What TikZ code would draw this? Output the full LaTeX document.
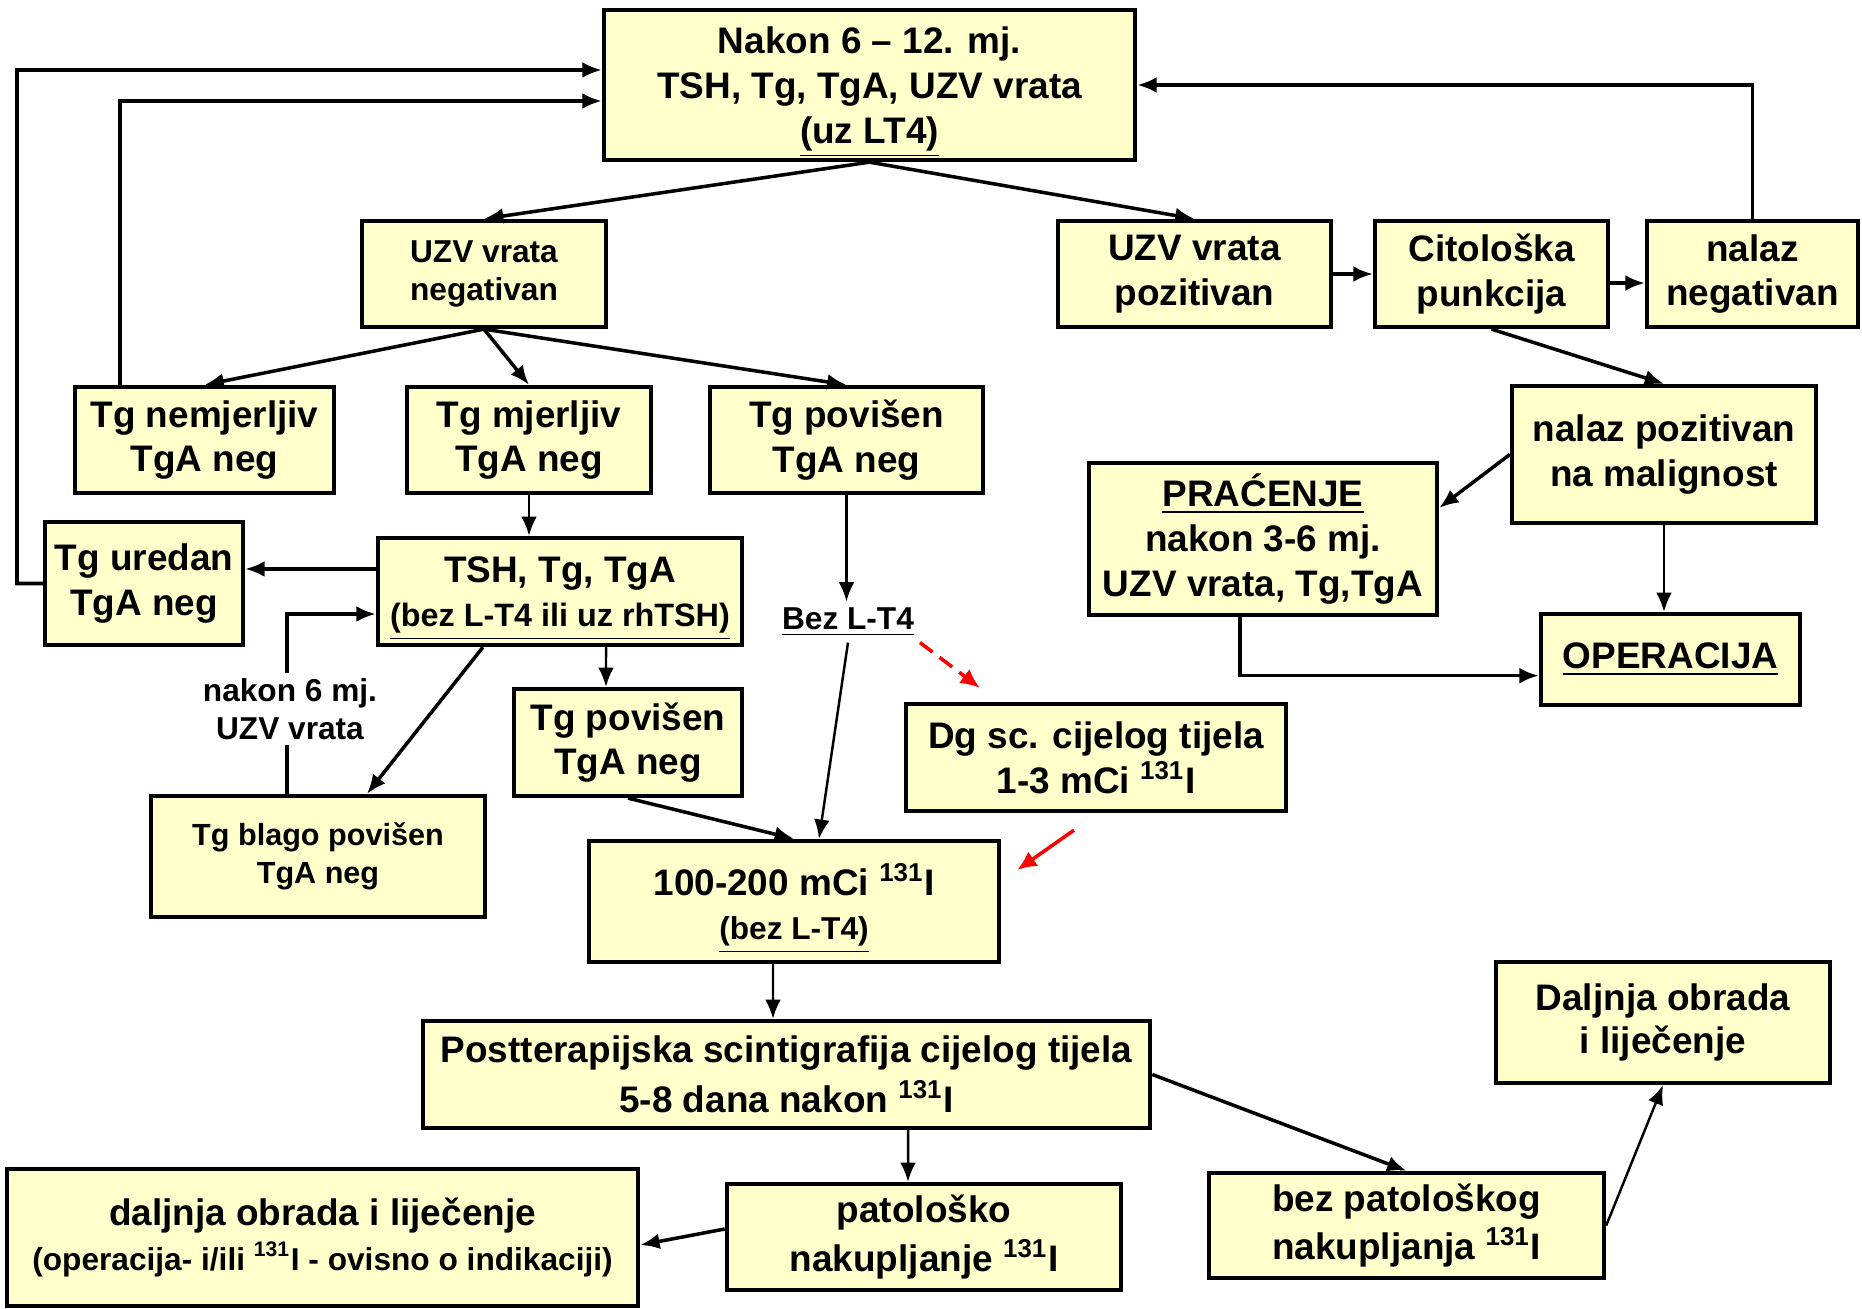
\documentclass[tikz,border=0pt]{standalone}
\usepackage{fontspec}
\setmainfont{Liberation Sans}
\usetikzlibrary{arrows.meta}
\definecolor{boxfill}{RGB}{255,255,204}
\newcommand{\bigtxt}{\fontsize{10.5}{12.7}\selectfont}
\newcommand{\smtxt}{\fontsize{9}{10.8}\selectfont}
\newcommand{\iod}{\textsuperscript{131}I}
\tikzstyle{box}=[draw=black,line width=1.2pt,fill=boxfill,align=center,inner sep=0pt,font=\bfseries\bigtxt]
\tikzstyle{arrow}=[-{Latex[length=5.5pt,width=4.5pt]},line width=1pt,draw=black]
\tikzstyle{thinarrow}=[arrow,line width=.7pt]
\tikzstyle{redarrow}=[-{Latex[length=5.5pt,width=5pt]},line width=1pt,draw=red]
\tikzstyle{note}=[font=\bfseries\smtxt,align=center,inner sep=1.5pt]

\begin{document}
\begin{tikzpicture}[x=.01cm,y=-.01cm]

	\path[use as bounding box,fill=white] (0,0) rectangle (1862,1309);

	%boxes
	\node[box,minimum width=5.31cm,minimum height=1.5cm] (top) at (869.5,85) {Nakon 6 – 12. mj.\\TSH, Tg, TgA, UZV vrata\\\smash{\underline{(uz LT4)}}};
	\node[box,font=\bfseries\smtxt,minimum width=2.44cm,minimum height=1.06cm] (uzvneg) at (484,274) {UZV vrata\\negativan};
	\node[box,minimum width=2.73cm,minimum height=1.06cm] (uzvpoz) at (1194.5,274) {UZV vrata\\pozitivan};
	\node[box,minimum width=2.33cm,minimum height=1.06cm] (cito) at (1491.5,274) {Citološka\\punkcija};
	\node[box,minimum width=2.11cm,minimum height=1.06cm] (nalneg) at (1752.5,274) {nalaz\\negativan};
	\node[box,minimum width=2.59cm,minimum height=1.06cm] (nemj) at (204.5,440) {Tg nemjerljiv\\TgA neg};
	\node[box,minimum width=2.44cm,minimum height=1.06cm] (mjer) at (529,440) {Tg mjerljiv\\TgA neg};
	\node[box,minimum width=2.73cm,minimum height=1.06cm] (povup) at (846.5,440) {Tg povišen\\TgA neg};
	\node[box,minimum width=3.04cm,minimum height=1.37cm] (nalpoz) at (1664,454.5) {nalaz pozitivan\\na malignost};
	\node[box,minimum width=3.48cm,minimum height=1.52cm] (prac) at (1263,539) {\underline{PRAĆENJE}\\nakon 3-6 mj.\\UZV vrata, Tg,TgA};
	\node[box,minimum width=1.98cm,minimum height=1.23cm] (ured) at (144,583.5) {Tg uredan\\TgA neg};
	\node[box,minimum width=3.64cm,minimum height=1.07cm] (tsh) at (560,591.5) {TSH, Tg, TgA\\{\fontsize{9.2}{10}\selectfont\smash{\underline{(bez L-T4 ili uz rhTSH)}}}};
	\node[box,minimum width=2.59cm,minimum height=.91cm] (oper) at (1670.5,659.5) {\underline{OPERACIJA}};
	\node[note] (bez) at (848,622) {\underline{Bez L-T4}};
	\node[box,minimum width=2.28cm,minimum height=1.07cm] (povlow) at (628,742.5) {Tg povišen\\TgA neg};
	\node[box,minimum width=3.8cm,minimum height=1.07cm] (dgsc) at (1096,757.5) {Dg sc. cijelog tijela\\1-3 mCi \iod};
	\node[box,font=\bfseries\fontsize{8.7}{10.8}\selectfont,minimum width=3.34cm,minimum height=1.21cm] (blago) at (318,856.5) {Tg blago povišen\\TgA neg};
	\node[box,minimum width=4.1cm,minimum height=1.21cm] (mci) at (794,901.5) {100-200 mCi \iod\\{\smtxt\smash{\underline{(bez L-T4)}}}};
	\node[box,minimum width=7.27cm,minimum height=1.07cm] (post) at (786.5,1074.5) {Postterapijska scintigrafija cijelog tijela\\[1.6pt]5-8 dana nakon \iod};
	\node[box,minimum width=3.34cm,minimum height=1.21cm] (daljR) at (1663,1022.5) {Daljnja obrada\\[-.6pt]i liječenje};
	\node[box,minimum width=6.31cm,minimum height=1.37cm] (daljL) at (322.5,1237.5) {daljnja obrada i liječenje\\{\smtxt(operacija- i/ili \iod{} - ovisno o indikaciji)}};
	\node[box,minimum width=3.94cm,minimum height=1.06cm] (pat) at (924,1237) {patološko\\[1pt]nakupljanje \iod};
	\node[box,minimum width=3.95cm,minimum height=1.05cm] (bezpat) at (1406.5,1225.5) {bez patološkog\\[1.2pt]nakupljanja \iod};

	%right branch
	\draw[arrow] (top.south) -- (uzvneg.north);
	\draw[arrow] (top.south) -- (uzvpoz.north);
	\draw[arrow] (uzvpoz) -- (cito);
	\draw[arrow] ([yshift=-.09cm]cito.east) -- ([yshift=-.09cm]nalneg.west);
	\draw[arrow] (nalneg.north) |- (top.east);
	\draw[arrow] (cito.south) -- (nalpoz.north);
	\draw[arrow] (nalpoz.west) -- (prac.10);
	\draw[thinarrow] (nalpoz.south) -- (nalpoz.south |- oper.north);
	\draw[arrow] ([xshift=-.23cm]prac.south) |- (oper.187);

	%left branch
	\draw[arrow] (uzvneg.south) -- (nemj.north);
	\draw[arrow] (uzvneg.south) -- (mjer.north);
	\draw[arrow] (uzvneg.south) -- (povup.north);
	\draw[arrow] ([xshift=-.845cm]nemj.north) |- ([yshift=-.16cm]top.west);
	\coordinate (loop) at (17,70);
	\draw[arrow] (ured.west) -| (loop) -- ([yshift=.15cm]top.west);
	\draw[thinarrow] (mjer.south) -- (mjer.south |- tsh.north);
	\path ([yshift=.225cm]tsh.west) coordinate (tshw);
	\draw[arrow] (tshw) -- (tshw -| ured.east);
	\draw[arrow] ([xshift=-.31cm]blago.north) |- ([yshift=-.225cm]tsh.west);
	\node[note,fill=white] (nakon) at (290,709) {nakon 6 mj.\\UZV vrata};
	\draw[arrow] ([xshift=-.77cm]tsh.south) -- ([xshift=.49cm]blago.north);
	\draw[thinarrow] ([xshift=.46cm]tsh.south) -- ([xshift=-.22cm]povlow.north);
	\draw[thinarrow] (povup.south) -- (povup.south |- bez.north);
	\draw[thinarrow] (bez.south) -- ([xshift=.25cm]mci.north);
	\draw[arrow] (povlow.south) -- (mci.north);

	%diagnostic dose
	\draw[redarrow,dash pattern=on 4.5pt off 2.5pt] (bez.south east) -- ([xshift=.76cm,yshift=.14cm]dgsc.north west);
	\draw[redarrow] ([xshift=-.22cm,yshift=-.17cm]dgsc.south) -- ([xshift=.16cm,yshift=.315cm]mci.east);

	%therapy
	\draw[thinarrow] ([xshift=-.21cm]mci.south) -- ([xshift=-.135cm]post.north);
	\draw[thinarrow] ([xshift=1.215cm]post.south) -- ([xshift=-.16cm]pat.north);
	\draw[arrow] (post.east) -- (bezpat.north);
	\draw[arrow] ([yshift=.08cm]pat.west) -- ([yshift=-.075cm]daljL.east);
	\draw[thinarrow] (bezpat.east) -- (daljR.south);
\end{tikzpicture}
\end{document}
